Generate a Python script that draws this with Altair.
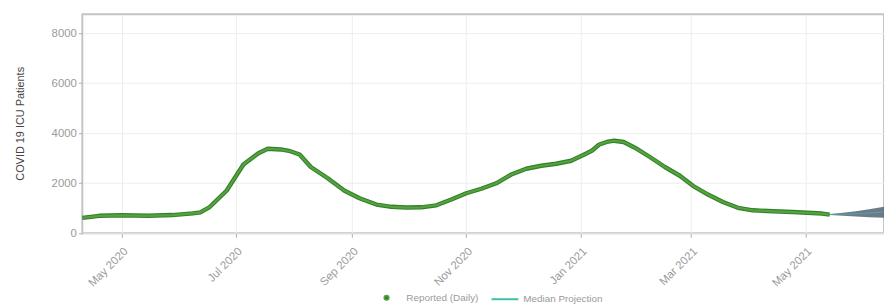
import altair as alt
import pandas as pd

# Reported daily ICU patients (at roughly weekly spacing)
rep_dates = [
    "2020-04-10", "2020-04-19", "2020-05-01", "2020-05-15", "2020-05-28",
    "2020-06-08", "2020-06-12", "2020-06-17", "2020-06-26", "2020-07-05",
    "2020-07-13", "2020-07-18", "2020-07-25", "2020-07-30", "2020-08-04",
    "2020-08-10", "2020-08-19", "2020-08-28", "2020-09-05", "2020-09-14",
    "2020-09-22", "2020-09-30", "2020-10-08", "2020-10-16", "2020-10-24",
    "2020-11-01", "2020-11-09", "2020-11-17", "2020-11-25", "2020-12-03",
    "2020-12-11", "2020-12-19", "2020-12-27", "2021-01-03", "2021-01-07",
    "2021-01-11", "2021-01-15", "2021-01-19", "2021-01-24", "2021-01-30",
    "2021-02-07", "2021-02-15", "2021-02-23", "2021-03-02", "2021-03-10",
    "2021-03-18", "2021-03-26", "2021-04-03", "2021-04-14", "2021-04-24",
    "2021-05-02", "2021-05-10", "2021-05-14",
]
rep_values = [
    620, 700, 720, 700, 730,
    800, 840, 1050, 1700, 2750,
    3200, 3380, 3350, 3280, 3150,
    2650, 2200, 1700, 1400, 1150,
    1060, 1030, 1040, 1120, 1350,
    1600, 1780, 2000, 2350, 2580,
    2700, 2780, 2900, 3150, 3300,
    3550, 3650, 3700, 3650, 3420,
    3050, 2650, 2300, 1900, 1550,
    1250, 1020, 920, 880, 850,
    820, 790, 750,
]

# Projection (median with uncertainty band)
proj_dates = ["2021-05-14", "2021-05-21", "2021-05-28", "2021-06-04", "2021-06-12"]
proj_median = [750, 760, 780, 810, 850]
proj_lower = [730, 700, 670, 640, 620]
proj_upper = [770, 820, 880, 960, 1060]

y_ticks = [0, 2000, 4000, 6000, 8000]
x_ticks = ["2020-05-01", "2020-07-01", "2020-09-01", "2020-11-01",
           "2021-01-01", "2021-03-01", "2021-05-01"]
x_domain = ["2020-04-10", "2021-06-12"]
y_domain = [0, 8750]

rep_label = "Reported (Daily)"
med_label = "Median Projection"

rep_df = pd.DataFrame({"date": rep_dates, "value": rep_values, "series": rep_label})
proj_df = pd.DataFrame({"date": proj_dates, "median": proj_median,
                        "lower": proj_lower, "upper": proj_upper, "series": med_label})

def dt(s):
    y, m, d = [int(v) for v in s.split("-")]
    return alt.DateTime(year=y, month=m, date=d, utc=True)

x_enc = alt.X(
    "date:T",
    scale=alt.Scale(type="utc", domain=[dt(s) for s in x_domain], nice=False),
    axis=alt.Axis(values=[dt(s) for s in x_ticks], format="%b %Y", labelAngle=315,
                  labelAlign="right", labelBaseline="top", labelPadding=8,
                  title=None),
)
y_scale = alt.Scale(domain=y_domain, nice=False, zero=True)

GREEN = "#54a33f"
DARK_GREEN = "#34802a"
TEAL = "#3cc0a8"

reported_edge = alt.Chart(rep_df).mark_line(strokeWidth=4.4, strokeJoin="round",
                                            color=DARK_GREEN).encode(
    x=x_enc,
    y=alt.Y("value:Q", scale=y_scale),
)

reported = alt.Chart(rep_df).mark_line(strokeWidth=2.2, strokeJoin="round").encode(
    x=x_enc,
    y=alt.Y("value:Q", scale=y_scale,
            axis=alt.Axis(values=y_ticks, format="d", title="COVID 19 ICU Patients",
                          titleX=-62, titleY=110, titleAngle=270,
                          titleAlign="center", titleBaseline="middle")),
    color=alt.Color("series:N",
                    scale=alt.Scale(domain=[rep_label], range=[GREEN]),
                    legend=alt.Legend(orient="none", legendX=302, legendY=281,
                                      title=None, symbolType="circle",
                                      symbolFillColor=DARK_GREEN, symbolStrokeColor=DARK_GREEN,
                                      symbolSize=22, labelOffset=15, padding=0)),
)

band = alt.Chart(proj_df).mark_area(color="#536374", opacity=0.85).encode(
    x=x_enc,
    y=alt.Y("lower:Q", scale=y_scale),
    y2="upper:Q",
)

median = alt.Chart(proj_df).mark_line(strokeWidth=1.0, opacity=0.6).encode(
    x=x_enc,
    y=alt.Y("median:Q", scale=y_scale),
    color=alt.Color("series:N",
                    scale=alt.Scale(domain=[med_label], range=[TEAL]),
                    legend=alt.Legend(orient="none", legendX=412, legendY=273,
                                      title=None, symbolType="stroke",
                                      symbolSize=729, symbolStrokeWidth=2,
                                      symbolOpacity=1,
                                      labelOffset=4, padding=0)),
)

chart = alt.layer(band, median, reported_edge, reported).resolve_scale(
    color="independent"
).properties(
    width=809, height=221,
    autosize=alt.AutoSizeParams(type="none"),
    padding={"left": 75, "top": 5, "right": 0, "bottom": 76},
    background="white",
).configure_view(
    stroke="#c4c4c4", strokeWidth=2,
).configure_axis(
    domain=False, tickColor="#b0b0b0", tickSize=4,
    labelColor="#9a9a9a", labelFontSize=11.5, labelFont="Liberation Sans",
    gridColor="#ededed", gridWidth=1,
    titleFont="Liberation Sans", titleFontSize=11, titleColor="#444444",
    titleFontWeight="normal",
).configure_legend(
    labelColor="#9a9a9a", labelFontSize=10, labelFont="Liberation Sans",
)

chart.save("out.html", embed_options={"renderer": "svg", "actions": False})
